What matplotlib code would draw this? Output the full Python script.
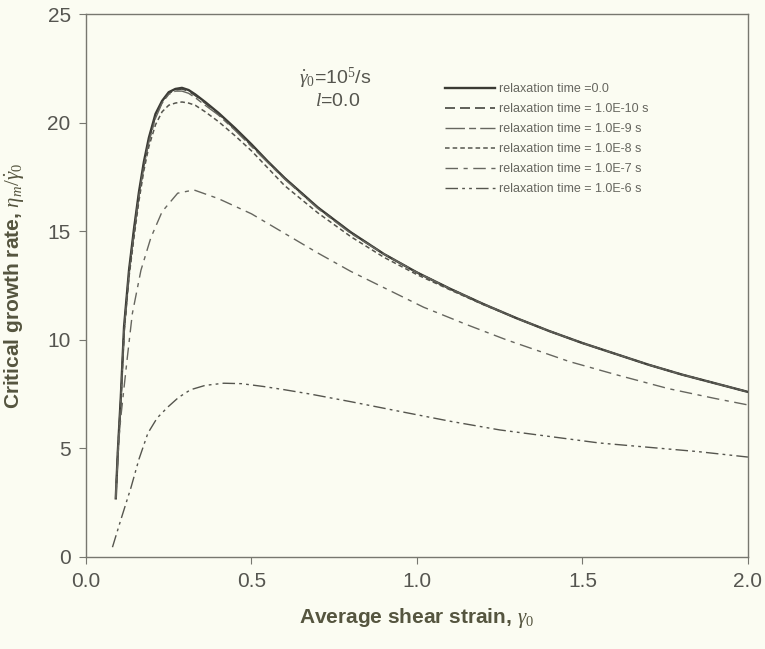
import matplotlib as mpl
import matplotlib.pyplot as plt
import numpy as np

mpl.rcParams.update({
    'font.family': ['Liberation Sans', 'DejaVu Sans'],
    'mathtext.fontset': 'custom',
    'mathtext.rm': 'Liberation Serif',
    'mathtext.it': 'Liberation Serif:italic',
})

x_a = [0.09, 0.096, 0.105, 0.115, 0.13, 0.145, 0.16, 0.175, 0.19, 0.21, 0.23, 0.25, 0.27,
       0.29, 0.31, 0.33, 0.36, 0.40, 0.45, 0.50, 0.55, 0.60, 0.70, 0.80, 0.90, 1.00,
       1.10, 1.20, 1.30, 1.40, 1.50, 1.60, 1.70, 1.80, 1.90, 2.00]
y_tau0 = [2.7, 4.8, 7.3, 10.6, 13.2, 15.1, 16.8, 18.2, 19.3, 20.4, 21.0, 21.4, 21.55,
          21.6, 21.5, 21.3, 20.95, 20.45, 19.75, 19.0, 18.2, 17.45, 16.1, 14.95, 13.95, 13.1,
          12.35, 11.65, 11.0, 10.4, 9.85, 9.35, 8.85, 8.4, 8.0, 7.6]
y_tau10 = [2.7, 4.8, 7.2, 10.5, 13.1, 15.0, 16.7, 18.1, 19.2, 20.3, 20.95, 21.35, 21.5,
           21.55, 21.45, 21.25, 20.9, 20.4, 19.7, 18.95, 18.2, 17.45, 16.1, 14.95, 13.95, 13.1,
           12.35, 11.65, 11.0, 10.4, 9.85, 9.35, 8.85, 8.4, 8.0, 7.6]
y_tau9 = [2.7, 4.7, 7.1, 10.4, 13.0, 14.9, 16.6, 18.0, 19.1, 20.2, 20.9, 21.3, 21.45,
          21.45, 21.35, 21.15, 20.8, 20.35, 19.65, 18.9, 18.15, 17.4, 16.05, 14.9, 13.95, 13.1,
          12.35, 11.65, 11.0, 10.4, 9.85, 9.35, 8.85, 8.4, 8.0, 7.6]
y_tau8 = [2.7, 4.7, 7.0, 10.3, 12.9, 14.7, 16.4, 17.8, 18.9, 19.9, 20.5, 20.8, 20.9,
          20.95, 20.9, 20.8, 20.5, 20.05, 19.4, 18.7, 17.9, 17.1, 15.85, 14.75, 13.8, 13.0,
          12.3, 11.62, 11.0, 10.4, 9.85, 9.35, 8.85, 8.4, 8.0, 7.6]

x_b = [0.09, 0.10, 0.105, 0.115, 0.125, 0.14, 0.166, 0.196, 0.23, 0.277, 0.326, 0.40,
       0.50, 0.60, 0.70, 0.80, 0.90, 1.02, 1.15, 1.27, 1.46, 1.60, 1.76, 1.90, 2.00]
y_tau7 = [2.7, 5.5, 6.4, 7.8, 9.2, 11.2, 13.2, 14.7, 15.9, 16.75, 16.9, 16.5,
          15.8, 14.9, 14.0, 13.15, 12.4, 11.5, 10.7, 10.0, 9.0, 8.4, 7.75, 7.3, 7.0]

x_c = [0.08, 0.105, 0.136, 0.16, 0.187, 0.215, 0.247, 0.28, 0.316, 0.36, 0.416, 0.47,
       0.536, 0.60, 0.678, 0.80, 0.949, 1.10, 1.25, 1.40, 1.55, 1.70, 1.85, 2.00]
y_tau6 = [0.45, 1.7, 3.2, 4.5, 5.7, 6.4, 6.9, 7.35, 7.7, 7.9, 8.0, 7.98,
          7.85, 7.7, 7.5, 7.15, 6.7, 6.25, 5.85, 5.55, 5.25, 5.05, 4.85, 4.6]

labels = ['relaxation time =0.0',
          'relaxation time = 1.0E-10 s',
          'relaxation time = 1.0E-9 s',
          'relaxation time = 1.0E-8 s',
          'relaxation time = 1.0E-7 s',
          'relaxation time = 1.0E-6 s']

bg = '#fbfcf2'
fig = plt.figure(figsize=(7.65, 6.49), dpi=100, facecolor=bg)
ax = fig.add_axes([0.1124, 0.1418, 0.8653, 0.8366], facecolor=bg)

ax.plot(x_a, y_tau0, '-', color='#3a3a34', lw=1.7, label=labels[0])
ax.plot(x_a, y_tau10, color='#45453f', lw=1.2, ls=(0, (6, 3)), label=labels[1])
ax.plot(x_a, y_tau9, color='#66665f', lw=1.0, ls=(0, (14, 3, 5, 3)), label=labels[2])
ax.plot(x_a, y_tau8, color='#55554e', lw=1.1, ls=(0, (3, 2)), label=labels[3])
ax.plot(x_b, y_tau7, color='#66665f', lw=1.0, ls=(0, (9, 4, 3, 4)), label=labels[4])
ax.plot(x_c, y_tau6, color='#55554e', lw=1.0, ls=(0, (9, 3, 2, 3, 2, 3)), label=labels[5])

ax.set_xlim(0, 2.0)
ax.set_ylim(0, 25)
ax.set_xticks([0.0, 0.5, 1.0, 1.5, 2.0])
ax.set_xticklabels(['0.0', '0.5', '1.0', '1.5', '2.0'])
ax.set_yticks([0, 5, 10, 15, 20, 25])
ax.tick_params(direction='out', length=5, width=0.8, colors='#777770',
               labelcolor='#555550', labelsize=15)
ax.tick_params(axis='x', pad=6)
ax.tick_params(axis='y', pad=6)
for s in ax.spines.values():
    s.set_color('#77776f')
    s.set_linewidth(1.0)

ax.set_xlabel(r'Average shear strain, $\gamma_0$', fontsize=15, fontweight='bold',
              color='#55553f')
ax.set_ylabel(r'Critical growth rate, $\eta_m/\dot{\gamma}_0$', fontsize=15,
              fontweight='bold', color='#55553f')
ax.xaxis.set_label_coords(0.5, -0.09)
ax.yaxis.set_label_coords(-0.09, 0.5)

ax.text(0.376, 0.882, r'$\dot{\gamma}_0$=10$^5$/s', transform=ax.transAxes,
        fontsize=14, color='#55554e', ha='center', va='center')
ax.text(0.38, 0.838, r'$l$=0.0', transform=ax.transAxes,
        fontsize=14, color='#55554e', ha='center', va='center')

leg = ax.legend(loc='upper left', bbox_to_anchor=(0.543, 0.873), frameon=False,
                fontsize=9, handlelength=4.0, handletextpad=0.25,
                labelspacing=0.64, borderpad=0, borderaxespad=0)
for t in leg.get_texts():
    t.set_color('#66665f')

plt.savefig('out.png', dpi=100, facecolor=bg)
